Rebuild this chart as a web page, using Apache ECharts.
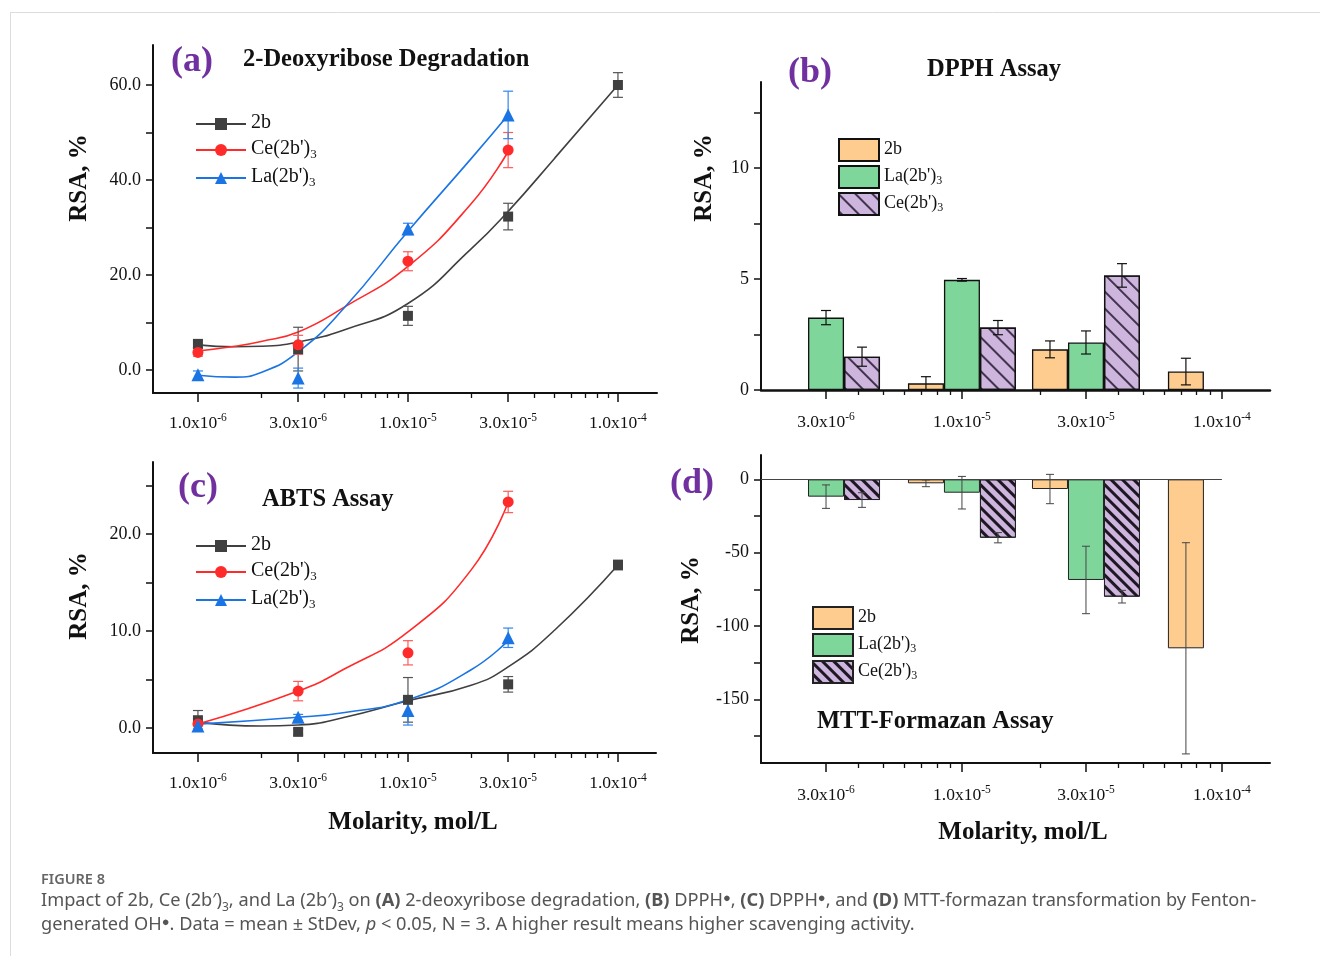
<!DOCTYPE html>
<html>
<head>
<meta charset="utf-8">
<script src="https://cdn.jsdelivr.net/npm/echarts@6/dist/echarts.min.js"></script>
<style>
html, body { margin: 0; padding: 0; background: #fff; }
#chart { width: 1320px; height: 956px; }
</style>
</head>
<body>
<div id="chart"></div>
<script>
const SERIF = '"Liberation Serif", "Times New Roman", serif';
const SANS = '"Noto Sans", "Open Sans", sans-serif';
const lg = Math.log10;

// tick positions on the molarity axes (mol/L)
const lineTicks = [1e-6, 3e-6, 1e-5, 3e-5, 1e-4];
const lineMinor = [2e-6, 4e-6, 5e-6, 6e-6, 7e-6, 8e-6, 9e-6, 2e-5, 4e-5, 5e-5, 6e-5, 7e-5, 8e-5, 9e-5];
const barTicks = [3e-6, 1e-5, 3e-5, 1e-4];
const barMinor = [4e-6, 5e-6, 6e-6, 7e-6, 8e-6, 9e-6, 2e-5, 4e-5, 5e-5, 6e-5, 7e-5, 8e-5, 9e-5];

// (a) 2-deoxyribose degradation, RSA % (mean, StDev)
const lineMolarity = [1e-6, 3e-6, 1e-5, 3e-5, 1e-4];
const deoxy2b = [5.5, 4.4, 11.4, 32.3, 60.0];
const deoxy2bSd = [0.8, 4.6, 2.0, 2.8, 2.6];
const deoxyCe = [3.7, 5.3, 22.9, 46.3];
const deoxyCeSd = [0.8, 2.0, 2.0, 3.7];
const deoxyLa = [-1.0, -1.7, 29.7, 53.7];
const deoxyLaSd = [0.8, 2.1, 1.2, 5.0];
// fitted curves [molarity, RSA]
const deoxy2bFit = [[1e-6, 5.3], [1.5e-6, 4.9], [2e-6, 5.0], [3e-6, 5.9], [5e-6, 8.5], [1e-5, 14.0], [2e-5, 25.5], [3e-5, 33.4], [5e-5, 44.6], [1e-4, 60.0]];
const deoxyCeFit = [[1e-6, 4.0], [1.5e-6, 5.0], [2e-6, 6.0], [3e-6, 8.0], [5e-6, 13.3], [1e-5, 21.8], [2e-5, 35.0], [3e-5, 46.0]];
const deoxyLaFit = [[1e-6, -1.1], [1.5e-6, -1.5], [2e-6, -0.5], [3e-6, 3.8], [5e-6, 13.2], [1e-5, 29.2], [2e-5, 44.5], [3e-5, 53.7]];

// (b) DPPH assay
const barMolarity = [3e-6, 1e-5, 3e-5, 1e-4];
const dpph2b = [null, 0.3, 1.83, 0.83];
const dpph2bSd = [null, 0.3, 0.38, 0.6];
const dpphLa = [3.26, 4.96, 2.14, null];
const dpphLaSd = [0.32, 0.06, 0.52, null];
const dpphCe = [1.5, 2.81, 5.16, null];
const dpphCeSd = [0.43, 0.32, 0.53, null];

// (c) ABTS assay
const abts2b = [0.8, -0.4, 2.9, 4.5, 16.8];
const abts2bSd = [1.0, 0.3, 2.3, 0.8, 0.5];
const abtsCe = [0.4, 3.8, 7.75, 23.3];
const abtsCeSd = [0.6, 1.0, 1.25, 1.1];
const abtsLa = [0.2, 1.1, 1.8, 9.3];
const abtsLaSd = [0.3, 0.3, 1.5, 1.0];
const abts2bFit = [[1e-6, 0.6], [2e-6, 0.2], [3e-6, 0.3], [5e-6, 1.1], [1e-5, 2.8], [2e-5, 4.4], [3e-5, 6.3], [5e-5, 10.1], [1e-4, 16.8]];
const abtsCeFit = [[1e-6, 0.4], [3e-6, 3.8], [5e-6, 6.1], [1e-5, 9.9], [2e-5, 16.3], [3e-5, 23.3]];
const abtsLaFit = [[1e-6, 0.4], [3e-6, 1.1], [5e-6, 1.6], [1e-5, 2.9], [2e-5, 6.0], [3e-5, 9.0]];

// (d) MTT-formazan assay
const mtt2b = [null, -2.7, -6.6, -115.2];
const mtt2bSd = [null, 2.3, 10, 72];
const mttLa = [-11.8, -9.1, -68.6, null];
const mttLaSd = [8, 11.1, 23, null];
const mttCe = [-14.1, -39.8, -80, null];
const mttCeSd = [5, 3.5, 4.3, null];

const C2B = '#404040', CCE = '#ff2b2b', CLA = '#1b74e4';
const ORANGE = '#ffcc8f', GREEN = '#7fd69b', PURPLE = '#cdb5de';
const INK = '#111';

const legendNames = { '2b': '{t|2b}', 'Ce': "{t|Ce(2b')}{s|3}", 'La': "{t|La(2b')}{s|3}" };

function sciLabel(v) {
    const e = Math.floor(v + 1e-6);
    const m = Math.pow(10, v - e);
    return '{m|' + m.toFixed(1) + 'x10}{e|' + e + '}';
}

function mainX(grid, min, max, ticks, margin) {
    const vals = ticks.map(lg);
    return {
        type: 'value', gridIndex: grid, min: min, max: max, position: 'bottom',
        splitLine: { show: false },
        axisLine: { onZero: false, lineStyle: { color: INK, width: grid === 1 ? 2.5 : 2 } },
        axisTick: { customValues: vals, length: 9, lineStyle: { color: INK, width: 1.5 } },
        axisLabel: {
            customValues: vals, margin: margin, formatter: sciLabel,
            rich: {
                m: { fontFamily: SERIF, fontSize: 17.5, color: INK, lineHeight: 24 },
                e: { fontFamily: SERIF, fontSize: 11.5, color: INK, verticalAlign: 'bottom', lineHeight: 12, padding: [0, 0, 11, 0] }
            }
        }
    };
}

function minorX(grid, min, max, ticks) {
    return {
        type: 'value', gridIndex: grid, min: min, max: max, position: 'bottom',
        splitLine: { show: false },
        axisLine: { show: false, onZero: false },
        axisLabel: { show: false },
        axisTick: { customValues: ticks.map(lg), length: 5, lineStyle: { color: INK, width: 1.3 } }
    };
}

function yAx(grid, min, max, ticks, labels, digits) {
    return {
        type: 'value', gridIndex: grid, min: min, max: max,
        splitLine: { show: false },
        axisLine: { show: true, onZero: false, lineStyle: { color: INK, width: 2 } },
        axisTick: { customValues: ticks, length: 7, lineStyle: { color: INK, width: 1.5 } },
        axisLabel: {
            customValues: labels, margin: 12, color: INK, fontFamily: SERIF, fontSize: 18,
            formatter: v => v.toFixed(digits)
        }
    };
}

function curve(name, grid, pairs, color, symbol, size) {
    return {
        name: name, type: 'line', xAxisIndex: grid * 2, yAxisIndex: grid,
        data: pairs.map(p => [lg(p[0]), p[1]]),
        smooth: 0.5, showSymbol: false, symbol: symbol, symbolSize: size,
        lineStyle: { color: color, width: 1.6 }, itemStyle: { color: color }, z: 2, silent: true
    };
}

function points(name, grid, xs, ys, color, symbol, size) {
    return {
        name: name, type: 'scatter', xAxisIndex: grid * 2, yAxisIndex: grid,
        data: ys.map((v, i) => [lg(xs[i]), v]),
        symbol: symbol, symbolSize: size, itemStyle: { color: color, opacity: 1 }, z: 4
    };
}

function errorBars(name, grid, xs, ys, sds, color, width, cap, shift) {
    const data = [];
    ys.forEach((v, i) => {
        if (v == null) return;
        data.push([lg(xs[i]), v - sds[i], v + sds[i]]);
    });
    return {
        name: name, type: 'custom', xAxisIndex: grid * 2, yAxisIndex: grid, data: data, z: 3, silent: true,
        encode: { x: 0, y: [1, 2] },
        renderItem: function (params, api) {
            const top = api.coord([api.value(0), api.value(2)]);
            const bot = api.coord([api.value(0), api.value(1)]);
            const x = top[0] + shift;
            const st = { stroke: color, lineWidth: width };
            return {
                type: 'group', children: [
                    { type: 'line', shape: { x1: x, y1: top[1], x2: x, y2: bot[1] }, style: st },
                    { type: 'line', shape: { x1: x - cap, y1: top[1], x2: x + cap, y2: top[1] }, style: st },
                    { type: 'line', shape: { x1: x - cap, y1: bot[1], x2: x + cap, y2: bot[1] }, style: st }
                ]
            };
        }
    };
}

function bars(name, grid, xs, ys, color, borderColor, borderWidth, decal) {
    const data = [];
    ys.forEach((v, i) => { if (v != null) data.push([lg(xs[i]), v]); });
    const s = {
        name: name, type: 'bar', xAxisIndex: grid * 2, yAxisIndex: grid, data: data,
        barWidth: 36, barGap: '0%',
        itemStyle: { color: color, borderColor: borderColor, borderWidth: borderWidth }, z: 2
    };
    if (decal) s.itemStyle.decal = decal;
    return s;
}

const hatchB = { symbol: 'rect', symbolSize: 1, dashArrayX: [1, 0], dashArrayY: [1.1, 10], rotation: Math.PI / 4, color: 'rgba(30,20,40,0.8)' };
const hatchD = { symbol: 'rect', symbolSize: 1, dashArrayX: [1, 0], dashArrayY: [2.8, 5], rotation: Math.PI / 4, color: 'rgba(20,15,25,0.95)' };

function lineLegend(prefix, left, top) {
    return {
        orient: 'vertical', left: left, top: top, padding: 0, itemWidth: 50, itemHeight: 15, itemGap: 2,
        data: [prefix + ' 2b', prefix + ' Ce', prefix + ' La'],
        formatter: n => legendNames[n.split(' ')[1]],
        textStyle: {
            rich: {
                t: { fontFamily: SERIF, fontSize: 20, color: INK, lineHeight: 22, verticalAlign: 'top' },
                s: { fontFamily: SERIF, fontSize: 13, color: INK, verticalAlign: 'bottom', lineHeight: 13, padding: [13, 0, 0, 0] }
            }
        }
    };
}

function barLegend(prefix, left, top) {
    return {
        orient: 'vertical', left: left, top: top, padding: 0, itemWidth: 40, itemHeight: 22, itemGap: 2, icon: 'rect',
        data: [prefix + ' 2b', prefix + ' La', prefix + ' Ce'],
        formatter: n => legendNames[n.split(' ')[1]],
        textStyle: {
            rich: {
                t: { fontFamily: SERIF, fontSize: 18, color: INK, lineHeight: 20, verticalAlign: 'top' },
                s: { fontFamily: SERIF, fontSize: 12, color: INK, verticalAlign: 'bottom', lineHeight: 12, padding: [11, 0, 0, 0] }
            }
        }
    };
}

function text(x, y, str, font, color, align, rotation) {
    return {
        type: 'text', x: x, y: y, rotation: rotation || 0, silent: true,
        style: { text: str, font: font, fill: color, align: align || 'center', verticalAlign: 'middle' }
    };
}

const PURPLE_TXT = '#7030a0';
const letterFont = 'bold 36px ' + SERIF;
const titleFont = 'bold 24.5px ' + SERIF;
const nameFont = 'bold 25px ' + SERIF;

const CAP = '#555';
const capRich = {
    r: { fontFamily: SANS, fontSize: 18.2, color: CAP, lineHeight: 22, verticalAlign: 'top' },
    b: { fontFamily: SANS, fontSize: 18.2, fontWeight: 'bold', color: CAP, lineHeight: 22, verticalAlign: 'top' },
    i: { fontFamily: SANS, fontSize: 18.2, fontStyle: 'italic', color: CAP, lineHeight: 22, verticalAlign: 'top' },
    sub: { fontFamily: SANS, fontSize: 12, color: CAP, verticalAlign: 'bottom', lineHeight: 12, padding: [14, 0, 0, 0] },
    sup: { fontFamily: SANS, fontSize: 13, color: CAP, verticalAlign: 'top', lineHeight: 12 }
};
const caption1 = "{r|Impact of 2b, Ce (2b\u2032)}{sub|3}{r|, and La (2b\u2032)}{sub|3}{r| on }{b|(A)}{r| 2-deoxyribose degradation, }{b|(B)}{r| DPPH}{sup|\u25CF}{r|, }{b|(C)}{r| DPPH}{sup|\u25CF}{r|, and }{b|(D)}{r| MTT-formazan transformation by Fenton-}";
const caption2 = "{r|generated OH}{sup|\u25CF}{r|. Data = mean \u00B1 StDev, }{i|p}{r| < 0.05, N = 3. A higher result means higher scavenging activity.}";

const chart = echarts.init(document.getElementById('chart'));
chart.setOption({
    animation: false,
    backgroundColor: '#fff',
    grid: [
        { left: 153, top: 45, width: 504, height: 348 },
        { left: 761, top: 82, width: 509, height: 308 },
        { left: 153, top: 462, width: 503, height: 291 },
        { left: 761, top: 455, width: 509, height: 308 }
    ],
    xAxis: [
        mainX(0, -6.214, -3.814, lineTicks, 18), minorX(0, -6.214, -3.814, lineMinor),
        mainX(1, -5.773, -3.815, barTicks, 20), minorX(1, -5.773, -3.815, barMinor),
        mainX(2, -6.214, -3.819, lineTicks, 18), minorX(2, -6.214, -3.819, lineMinor),
        mainX(3, -5.773, -3.815, barTicks, 20), minorX(3, -5.773, -3.815, barMinor)
    ],
    yAxis: [
        yAx(0, -4.84, 68.42, [0, 10, 20, 30, 40, 50, 60], [0, 20, 40, 60], 1),
        yAx(1, 0, 13.87, [0, 2.5, 5, 7.5, 10, 12.5], [0, 5, 10], 0),
        yAx(2, -2.58, 27.42, [0, 5, 10, 15, 20, 25], [0, 10, 20], 1),
        yAx(3, -193.4, 16.6, [0, -25, -50, -75, -100, -125, -150, -175], [0, -50, -100, -150], 0)
    ],
    legend: [
        lineLegend('A', 195, 113),
        barLegend('B', 838, 138),
        lineLegend('C', 195, 535),
        barLegend('D', 812, 606)
    ],
    series: [
        // (a)
        curve('A 2b', 0, deoxy2bFit, C2B, 'rect', 10),
        curve('A Ce', 0, deoxyCeFit, CCE, 'circle', 11),
        curve('A La', 0, deoxyLaFit, CLA, 'triangle', 13),
        errorBars('A 2b err', 0, lineMolarity, deoxy2b, deoxy2bSd, '#555', 1.2, 5, 0),
        errorBars('A Ce err', 0, lineMolarity, deoxyCe, deoxyCeSd, '#ff5a5a', 1.2, 5, 0),
        errorBars('A La err', 0, lineMolarity, deoxyLa, deoxyLaSd, '#2f86ee', 1.2, 5, 0),
        points('A 2b pts', 0, lineMolarity, deoxy2b, C2B, 'rect', 10),
        points('A Ce pts', 0, lineMolarity, deoxyCe, CCE, 'circle', 11),
        points('A La pts', 0, lineMolarity, deoxyLa, CLA, 'triangle', 13),
        // (b)
        bars('B 2b', 1, barMolarity, dpph2b, ORANGE, INK, 1.3),
        bars('B La', 1, barMolarity, dpphLa, GREEN, INK, 1.3),
        bars('B Ce', 1, barMolarity, dpphCe, PURPLE, INK, 1.3, hatchB),
        errorBars('B 2b err', 1, barMolarity, dpph2b, dpph2bSd, INK, 1.2, 5, -36),
        errorBars('B La err', 1, barMolarity, dpphLa, dpphLaSd, INK, 1.2, 5, 0),
        errorBars('B Ce err', 1, barMolarity, dpphCe, dpphCeSd, INK, 1.2, 5, 36),
        // (c)
        curve('C 2b', 2, abts2bFit, C2B, 'rect', 10),
        curve('C Ce', 2, abtsCeFit, CCE, 'circle', 11),
        curve('C La', 2, abtsLaFit, CLA, 'triangle', 13),
        errorBars('C 2b err', 2, lineMolarity, abts2b, abts2bSd, '#555', 1.2, 5, 0),
        errorBars('C Ce err', 2, lineMolarity, abtsCe, abtsCeSd, '#ff5a5a', 1.2, 5, 0),
        errorBars('C La err', 2, lineMolarity, abtsLa, abtsLaSd, '#2f86ee', 1.2, 5, 0),
        points('C 2b pts', 2, lineMolarity, abts2b, C2B, 'rect', 10),
        points('C Ce pts', 2, lineMolarity, abtsCe, CCE, 'circle', 11),
        points('C La pts', 2, lineMolarity, abtsLa, CLA, 'triangle', 13),
        // (d)
        bars('D 2b', 3, barMolarity, mtt2b, ORANGE, '#222', 1),
        // zero reference line sits on the middle (unshifted) bar series
        Object.assign(bars('D La', 3, barMolarity, mttLa, GREEN, '#222', 1), {
            markLine: {
                silent: true, symbol: 'none', label: { show: false },
                lineStyle: { color: '#444', width: 1, type: 'solid' },
                data: [[{ coord: [-5.773, 0] }, { coord: [lg(1e-4), 0] }]]
            }
        }),
        bars('D Ce', 3, barMolarity, mttCe, PURPLE, '#222', 1, hatchD),
        errorBars('D 2b err', 3, barMolarity, mtt2b, mtt2bSd, '#444', 1, 4, -36),
        errorBars('D La err', 3, barMolarity, mttLa, mttLaSd, '#444', 1, 4, 0),
        errorBars('D Ce err', 3, barMolarity, mttCe, mttCeSd, '#444', 1, 4, 36)
    ],
    graphic: [
        { type: 'line', silent: true, shape: { x1: 10, y1: 12.5, x2: 1320, y2: 12.5 }, style: { stroke: '#dcdcdc', lineWidth: 1 } },
        { type: 'line', silent: true, shape: { x1: 10.5, y1: 12, x2: 10.5, y2: 956 }, style: { stroke: '#dcdcdc', lineWidth: 1 } },

        text(192, 62, '(a)', letterFont, PURPLE_TXT),
        text(810, 73, '(b)', letterFont, PURPLE_TXT),
        text(198, 488, '(c)', letterFont, PURPLE_TXT),
        text(692, 484, '(d)', letterFont, PURPLE_TXT),

        text(243, 60, '2-Deoxyribose Degradation', titleFont, INK, 'left'),
        text(927, 70, 'DPPH Assay', titleFont, INK, 'left'),
        text(262, 500, 'ABTS Assay', titleFont, INK, 'left'),
        text(817, 722, 'MTT-Formazan Assay', titleFont, INK, 'left'),

        text(80, 178, 'RSA, %', nameFont, INK, 'center', Math.PI / 2),
        text(705, 178, 'RSA, %', nameFont, INK, 'center', Math.PI / 2),
        text(80, 596, 'RSA, %', nameFont, INK, 'center', Math.PI / 2),
        text(692, 600, 'RSA, %', nameFont, INK, 'center', Math.PI / 2),
        text(413, 823, 'Molarity, mol/L', nameFont, INK),
        text(1023, 833, 'Molarity, mol/L', nameFont, INK),

        text(41, 880, 'FIGURE 8', '600 14.5px ' + SANS, '#666', 'left'),
        {
            type: 'text', x: 41, y: 903, silent: true,
            style: { text: caption1, rich: capRich, font: '18px ' + SANS, fill: CAP, align: 'left', verticalAlign: 'middle' }
        },
        {
            type: 'text', x: 41, y: 927, silent: true,
            style: { text: caption2, rich: capRich, font: '18px ' + SANS, fill: CAP, align: 'left', verticalAlign: 'middle' }
        }
    ]
});
</script>
</body>
</html>
